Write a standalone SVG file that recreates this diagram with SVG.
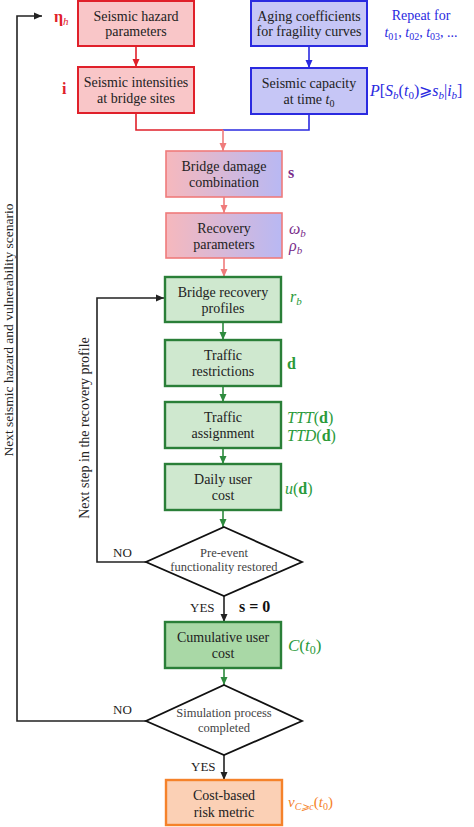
<svg xmlns="http://www.w3.org/2000/svg" width="474" height="827" viewBox="0 0 474 827">
<defs>
<linearGradient id="gradRB" x1="0" y1="0" x2="1" y2="0">
<stop offset="0" stop-color="#f6b8bd"/>
<stop offset="1" stop-color="#b8b8f3"/>
</linearGradient>
<marker id="aRed" markerUnits="userSpaceOnUse" markerWidth="8" markerHeight="8" refX="8" refY="4" orient="auto"><path d="M0,0.5 L8,4 L0,7.5 Z" fill="#e0202a"/></marker>
<marker id="aBlue" markerUnits="userSpaceOnUse" markerWidth="8" markerHeight="8" refX="8" refY="4" orient="auto"><path d="M0,0.5 L8,4 L0,7.5 Z" fill="#2a2ae0"/></marker>
<marker id="aSal" markerUnits="userSpaceOnUse" markerWidth="8" markerHeight="8" refX="8" refY="4" orient="auto"><path d="M0,0.5 L8,4 L0,7.5 Z" fill="#ef7b7b"/></marker>
<marker id="aGreen" markerUnits="userSpaceOnUse" markerWidth="8" markerHeight="8" refX="8" refY="4" orient="auto"><path d="M0,0.5 L8,4 L0,7.5 Z" fill="#2e8b3e"/></marker>
<marker id="aBlack" markerUnits="userSpaceOnUse" markerWidth="8" markerHeight="8" refX="8" refY="4" orient="auto"><path d="M0,0.5 L8,4 L0,7.5 Z" fill="#222"/></marker>
</defs>
<style>
text{font-family:"Liberation Serif","Times New Roman",serif;}
.bt{font-size:14px;fill:#222;text-anchor:middle;}
.dt{font-size:12.5px;fill:#444;text-anchor:middle;}
.red{fill:#f9c6c8;stroke:#e0202a;stroke-width:2;}
.blue{fill:#c6c6f6;stroke:#2a2ae0;stroke-width:2;}
.grad{fill:url(#gradRB);stroke:#ef7b7b;stroke-width:1.6;}
.green{fill:#cfe8cf;stroke:#2a7f38;stroke-width:2.4;}
.green2{fill:#a9d8a6;stroke:#2a7f38;stroke-width:2.4;}
.orange{fill:#fbd0b5;stroke:#f5822a;stroke-width:2.4;}
.dia{fill:#fff;stroke:#111;stroke-width:1.8;}
.lab{font-size:16px;}
.lr{fill:#e0202a;}
.lb{fill:#2a2ae0;}
.lp{fill:#7a2d8a;}
.lg{fill:#2a9a3a;}
.lo{fill:#f5822a;}
.yn{font-size:13px;fill:#222;}
.c{fill:none;stroke-width:1.6;}
</style>

<g id="connectors">
<line class="c" x1="136" y1="46" x2="136" y2="67" stroke="#e0202a" marker-end="url(#aRed)"/>
<line class="c" x1="309" y1="46" x2="309" y2="68" stroke="#2a2ae0" marker-end="url(#aBlue)"/>
<polyline class="c" points="136,113 136,130 223,130" stroke="#e0202a"/>
<polyline class="c" points="309,114 309,130 223,130" stroke="#2a2ae0"/>
<line class="c" x1="223" y1="130" x2="223" y2="151" stroke="#ef7b7b" marker-end="url(#aSal)"/>
<line class="c" x1="224" y1="197" x2="224" y2="213" stroke="#ef7b7b" marker-end="url(#aSal)"/>
<line class="c" x1="224" y1="258" x2="224" y2="277" stroke="#ef7b7b" marker-end="url(#aSal)"/>
<line class="c" x1="223" y1="322" x2="223" y2="340" stroke="#2e8b3e" marker-end="url(#aGreen)"/>
<line class="c" x1="223" y1="386" x2="223" y2="402" stroke="#2e8b3e" marker-end="url(#aGreen)"/>
<line class="c" x1="223" y1="448" x2="223" y2="464" stroke="#2e8b3e" marker-end="url(#aGreen)"/>
<line class="c" x1="223" y1="510" x2="223" y2="527" stroke="#2e8b3e" marker-end="url(#aGreen)"/>
<line class="c" x1="224" y1="596" x2="224" y2="622" stroke="#222" marker-end="url(#aBlack)"/>
<line class="c" x1="224" y1="668" x2="224" y2="685" stroke="#2e8b3e" marker-end="url(#aGreen)"/>
<line class="c" x1="224" y1="755" x2="224" y2="780" stroke="#222" marker-end="url(#aBlack)"/>
<polyline class="c" points="146,562 97,562 97,298 164,298" stroke="#222" marker-end="url(#aBlack)"/>
<polyline class="c" points="146,721 17,721 17,16 42,16" stroke="#222" marker-end="url(#aBlack)"/>
<text class="yn" x="113" y="557">NO</text>
<text class="yn" x="113" y="714">NO</text>
<text class="yn" x="190" y="612">YES</text>
<text class="yn" x="191" y="771">YES</text>
<text x="239" y="612" font-size="16" font-weight="bold" fill="#111">s = 0</text>
<text transform="translate(12.5,330) rotate(-90)" text-anchor="middle" font-size="13.5" fill="#222">Next seismic hazard and vulnerability scenario</text>
<text transform="translate(89,428) rotate(-90)" text-anchor="middle" font-size="14" fill="#222">Next step in the recovery profile</text>
</g>

<g id="hazard">
<rect class="red" x="78" y="1" width="116" height="45"/>
<text class="bt" x="136" y="21">Seismic hazard</text>
<text class="bt" x="136" y="36">parameters</text>
<text class="lab lr" x="54" y="22" font-weight="bold">η<tspan font-size="11" font-style="italic" font-weight="normal" dy="3">h</tspan></text>
</g>

<g id="aging">
<rect class="blue" x="251" y="1" width="116" height="45"/>
<text class="bt" x="309" y="21">Aging coefficients</text>
<text class="bt" x="309" y="36">for fragility curves</text>
<text class="lb" x="421" y="20" font-size="14" text-anchor="middle">Repeat for</text>
<text class="lb" x="421" y="37" font-size="14" text-anchor="middle"><tspan font-style="italic">t</tspan><tspan font-size="10" dy="3">01</tspan><tspan dy="-3">, </tspan><tspan font-style="italic">t</tspan><tspan font-size="10" dy="3">02</tspan><tspan dy="-3">, </tspan><tspan font-style="italic">t</tspan><tspan font-size="10" dy="3">03</tspan><tspan dy="-3">, ...</tspan></text>
</g>

<g id="intensities">
<rect class="red" x="78" y="67" width="116" height="46"/>
<text class="bt" x="136" y="87">Seismic intensities</text>
<text class="bt" x="136" y="103">at bridge sites</text>
<text class="lab lr" x="62" y="94" font-weight="bold">i</text>
</g>

<g id="capacity">
<rect class="blue" x="251" y="68" width="116" height="46"/>
<text class="bt" x="309" y="88">Seismic capacity</text>
<text class="bt" x="309" y="104">at time <tspan font-style="italic">t</tspan><tspan font-size="10" dy="3">0</tspan></text>
<text class="lab lb" x="370" y="96"><tspan font-style="italic">P</tspan>[<tspan font-style="italic">S</tspan><tspan font-style="italic" font-size="11" dy="3">b</tspan><tspan dy="-3">(</tspan><tspan font-style="italic">t</tspan><tspan font-size="11" dy="3">0</tspan><tspan dy="-3">)⩾</tspan><tspan font-style="italic">s</tspan><tspan font-style="italic" font-size="11" dy="3">b</tspan><tspan dy="-3">|</tspan><tspan font-style="italic">i</tspan><tspan font-style="italic" font-size="11" dy="3">b</tspan><tspan dy="-3">]</tspan></text>
</g>

<g id="damage">
<rect class="grad" x="166" y="151" width="116" height="46"/>
<text class="bt" x="224" y="171">Bridge damage</text>
<text class="bt" x="224" y="187">combination</text>
<text class="lab lp" x="288" y="178" font-weight="bold">s</text>
</g>

<g id="recoveryparams">
<rect class="grad" x="166" y="213" width="116" height="45"/>
<text class="bt" x="224" y="233">Recovery</text>
<text class="bt" x="224" y="249">parameters</text>
<text class="lab lp" x="289" y="234" font-style="italic">ω<tspan font-size="11" dy="3">b</tspan></text>
<text class="lab lp" x="289" y="251" font-style="italic">ρ<tspan font-size="11" dy="3">b</tspan></text>
</g>

<g id="profiles">
<rect class="green" x="165" y="277" width="116" height="45"/>
<text class="bt" x="223" y="297">Bridge recovery</text>
<text class="bt" x="223" y="313">profiles</text>
<text class="lab lg" x="290" y="302" font-style="italic">r<tspan font-size="11" dy="3">b</tspan></text>
</g>

<g id="restrictions">
<rect class="green" x="165" y="340" width="116" height="46"/>
<text class="bt" x="223" y="360">Traffic</text>
<text class="bt" x="223" y="376">restrictions</text>
<text class="lab lg" x="287" y="369" font-weight="bold">d</text>
</g>

<g id="assignment">
<rect class="green" x="165" y="402" width="116" height="46"/>
<text class="bt" x="223" y="422">Traffic</text>
<text class="bt" x="223" y="438">assignment</text>
<text class="lab lg" x="287" y="423"><tspan font-style="italic">TTT</tspan>(<tspan font-weight="bold">d</tspan>)</text>
<text class="lab lg" x="287" y="441"><tspan font-style="italic">TTD</tspan>(<tspan font-weight="bold">d</tspan>)</text>
</g>

<g id="dailycost">
<rect class="green" x="165" y="464" width="116" height="46"/>
<text class="bt" x="223" y="484">Daily user</text>
<text class="bt" x="223" y="500">cost</text>
<text class="lab lg" x="285" y="494"><tspan font-style="italic">u</tspan>(<tspan font-weight="bold">d</tspan>)</text>
</g>

<g id="restored">
<polygon class="dia" points="224,527 302,562 224,596 146,562"/>
<text class="dt" x="224" y="557">Pre-event</text>
<text class="dt" x="224" y="571">functionality restored</text>
</g>

<g id="cumulative">
<rect class="green2" x="165" y="622" width="116" height="46"/>
<text class="bt" x="223" y="642">Cumulative user</text>
<text class="bt" x="223" y="658">cost</text>
<text class="lg" x="288" y="651" font-size="17"><tspan font-style="italic">C</tspan>(<tspan font-style="italic">t</tspan><tspan font-size="12" dy="3">0</tspan><tspan dy="-3">)</tspan></text>
</g>

<g id="completed">
<polygon class="dia" points="224,685 302,721 224,755 146,721"/>
<text class="dt" x="224" y="717">Simulation process</text>
<text class="dt" x="224" y="732">completed</text>
</g>

<g id="riskmetric">
<rect class="orange" x="166" y="780" width="116" height="45"/>
<text class="bt" x="224" y="800">Cost-based</text>
<text class="bt" x="224" y="817">risk metric</text>
<text class="lo" x="288" y="807" font-size="15"><tspan font-style="italic">v</tspan><tspan font-style="italic" font-size="10" dy="3">C⩾c</tspan><tspan dy="-3">(</tspan><tspan font-style="italic">t</tspan><tspan font-size="10" dy="3">0</tspan><tspan dy="-3">)</tspan></text>
</g>
</svg>
